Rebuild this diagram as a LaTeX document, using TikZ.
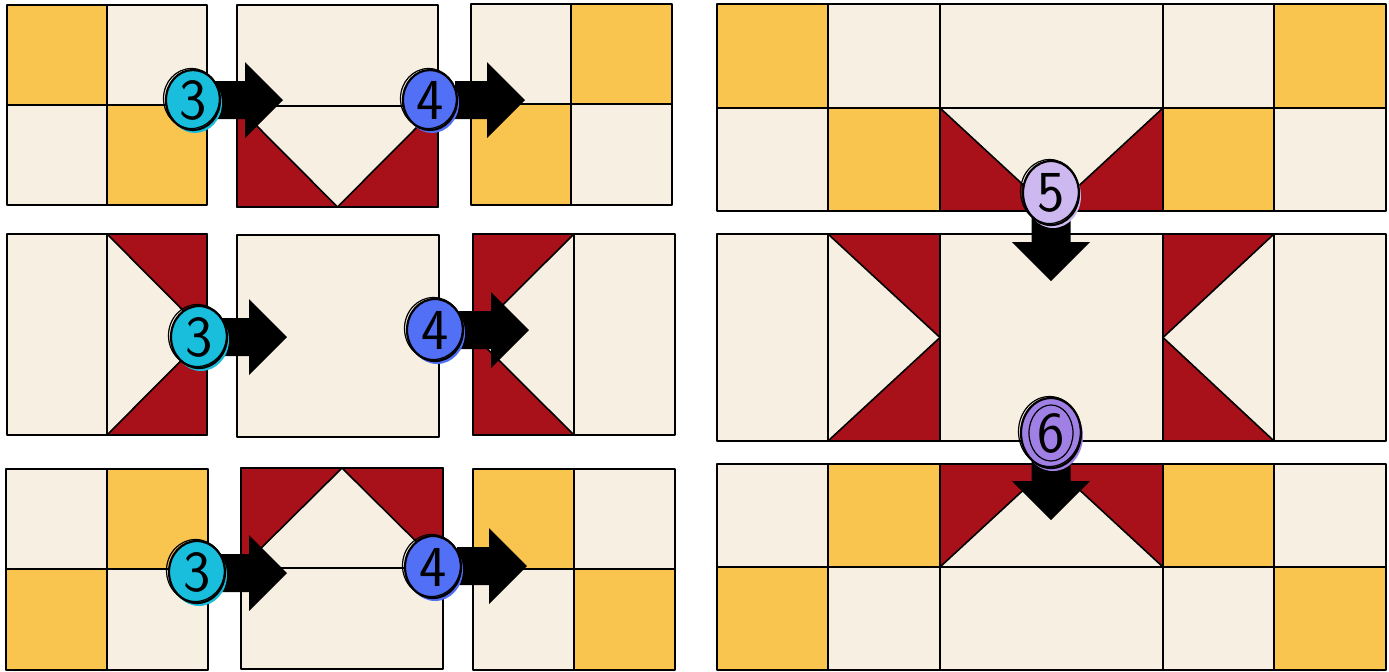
\documentclass[tikz,border=0pt]{standalone}
\usetikzlibrary{shapes.geometric}
\definecolor{qgold}{RGB}{249,197,79}
\definecolor{qcream}{RGB}{247,240,226}
\definecolor{qred}{RGB}{168,17,25}
\definecolor{qcyan}{RGB}{24,190,220}
\definecolor{qblue}{RGB}{82,112,245}
\definecolor{qlilac}{RGB}{205,184,240}
\definecolor{qviolet}{RGB}{161,128,229}
\tikzset{
  cell/.style={draw=black,line width=0.8pt,line join=round},
  gc/.style={cell,fill=qgold},
  cc/.style={cell,fill=qcream},
  rc/.style={cell,fill=qred},
  badge/.style={ellipse,draw=black,line width=1.1pt,inner sep=0pt,
    font=\sffamily\fontsize{29}{29}\selectfont},
  rarr/.pic={\fill[black] (-70,-19) -- (-38,-19) -- (-38,-38) -- (0,0) -- (-38,38) -- (-38,19) -- (-70,19) -- cycle;},
  darr/.pic={\fill[black] (-19.5,-78) -- (-19.5,-39) -- (-39,-39) -- (0,0) -- (39,-39) -- (19.5,-39) -- (19.5,-78) -- cycle;}
}
\newcommand\mybadge[7]{%
  \fill[#4] ($(#2,#3)+(2,3)$) ellipse [x radius=#6, y radius=#7];
  \node[badge,fill=#4,minimum width=#6pt,minimum height=#7pt] (#1) at (#2,#3) {#5};
  \draw[line width=0.6pt] ($(#2,#3)+(-1.5,-1.5)$) ellipse [x radius=#6+1, y radius=#7];
}
\usetikzlibrary{calc}
\begin{document}
\begin{tikzpicture}[x=0.5pt,y=-0.5pt]
\useasboundingbox (0,0) rectangle (1389,671);
\fill[white] (0,0) rectangle (1389,671);
% ---------- Row 1 left ----------
\filldraw[gc] (7,5) rectangle (107,105);
\filldraw[cc] (107,5) rectangle (207,105);
\filldraw[cc] (7,105) rectangle (107,205);
\filldraw[gc] (107,105) rectangle (207,205);
% block B
\filldraw[cc] (237,5) rectangle (438,106);
\filldraw[cc] (237,106) rectangle (438,207);
\filldraw[rc] (237,106) -- (337.5,207) -- (237,207) -- cycle;
\filldraw[rc] (438,106) -- (438,207) -- (337.5,207) -- cycle;
% block C
\filldraw[cc] (471,4) rectangle (571,104);
\filldraw[gc] (571,4) rectangle (672,104);
\filldraw[gc] (471,104) rectangle (571,205);
\filldraw[cc] (571,104) rectangle (672,205);
% ---------- Row 2 left ----------
\filldraw[cc] (7,234) rectangle (107,435);
\filldraw[cc] (107,234) rectangle (207,435);
\filldraw[rc] (107,234) -- (207,234) -- (207,334.5) -- cycle;
\filldraw[rc] (107,435) -- (207,435) -- (207,334.5) -- cycle;
\filldraw[cc] (237,235) rectangle (439,437);
\filldraw[cc] (473,234) rectangle (574,435);
\filldraw[cc] (574,234) rectangle (675,435);
\filldraw[rc] (473,234) -- (574,234) -- (473,334.5) -- cycle;
\filldraw[rc] (473,435) -- (574,435) -- (473,334.5) -- cycle;
% ---------- Row 3 left ----------
\filldraw[cc] (6,469) rectangle (107,569);
\filldraw[gc] (107,469) rectangle (208,569);
\filldraw[gc] (6,569) rectangle (107,670);
\filldraw[cc] (107,569) rectangle (208,670);
\filldraw[cc] (241,468) rectangle (443,568);
\filldraw[cc] (241,568) rectangle (443,669);
\filldraw[rc] (241,468) -- (342,468) -- (241,568) -- cycle;
\filldraw[rc] (443,468) -- (342,468) -- (443,568) -- cycle;
\filldraw[gc] (473,469) rectangle (574,569);
\filldraw[cc] (574,469) rectangle (675,569);
\filldraw[cc] (473,569) rectangle (574,670);
\filldraw[gc] (574,569) rectangle (675,670);
% ---------- Right top block ----------
\filldraw[gc] (717,4) rectangle (828,108);
\filldraw[cc] (828,4) rectangle (940,108);
\filldraw[cc] (940,4) rectangle (1163,108);
\filldraw[cc] (1163,4) rectangle (1274,108);
\filldraw[gc] (1274,4) rectangle (1386,108);
\filldraw[cc] (717,108) rectangle (828,211);
\filldraw[gc] (828,108) rectangle (940,211);
\filldraw[cc] (940,108) rectangle (1163,211);
\filldraw[rc] (940,108) -- (1051.5,211) -- (940,211) -- cycle;
\filldraw[rc] (1163,108) -- (1163,211) -- (1051.5,211) -- cycle;
\filldraw[gc] (1163,108) rectangle (1274,211);
\filldraw[cc] (1274,108) rectangle (1386,211);
% ---------- Right middle block ----------
\filldraw[cc] (717,234) rectangle (828,441);
\filldraw[cc] (828,234) rectangle (940,441);
\filldraw[rc] (828,234) -- (940,234) -- (940,337.5) -- cycle;
\filldraw[rc] (940,337.5) -- (940,441) -- (828,441) -- cycle;
\filldraw[cc] (940,234) rectangle (1163,441);
\filldraw[cc] (1163,234) rectangle (1274,441);
\filldraw[rc] (1163,234) -- (1274,234) -- (1163,337.5) -- cycle;
\filldraw[rc] (1163,337.5) -- (1163,441) -- (1274,441) -- cycle;
\filldraw[cc] (1274,234) rectangle (1386,441);
% ---------- Right bottom block ----------
\filldraw[cc] (717,464) rectangle (828,567);
\filldraw[gc] (828,464) rectangle (940,567);
\filldraw[cc] (940,464) rectangle (1163,567);
\filldraw[rc] (940,464) -- (1051.5,464) -- (940,567) -- cycle;
\filldraw[rc] (1163,464) -- (1051.5,464) -- (1163,567) -- cycle;
\filldraw[gc] (1163,464) rectangle (1274,567);
\filldraw[cc] (1274,464) rectangle (1386,567);
\filldraw[gc] (717,567) rectangle (828,670);
\filldraw[cc] (828,567) rectangle (940,670);
\filldraw[cc] (940,567) rectangle (1163,670);
\filldraw[cc] (1163,567) rectangle (1274,670);
\filldraw[gc] (1274,567) rectangle (1386,670);
% ---------- Arrows ----------
\coordinate (t3a) at (283,100);
\coordinate (t4a) at (525,100);
\coordinate (t3b) at (287,337);
\coordinate (t4b) at (529,330);
\coordinate (t3c) at (287,573);
\coordinate (t4c) at (527,566);
\coordinate (t5) at (1051,281);
\coordinate (t6) at (1051,520);
\pic at (t3a) {rarr};
\pic at (t4a) {rarr};
\pic at (t3b) {rarr};
\pic at (t4b) {rarr};
\pic at (t3c) {rarr};
\pic at (t4c) {rarr};
\pic at (t5) {darr};
\pic at (t6) {darr};
% ---------- Badges ----------
\mybadge{c3a}{193}{100}{qcyan}{3}{27}{30}
\mybadge{c4a}{430}{100}{qblue}{4}{27}{30}
\mybadge{c3b}{199}{337}{qcyan}{3}{28}{31}
\mybadge{c4b}{435}{330}{qblue}{4}{28}{31}
\mybadge{c3c}{197}{572}{qcyan}{3}{28}{31}
\mybadge{c4c}{433}{567}{qblue}{4}{28}{31}
\mybadge{c5}{1051}{193}{qlilac}{5}{28}{32}
\mybadge{c6}{1051}{433}{qviolet}{6}{30}{35}
\draw[line width=0.6pt] (c6.center) ellipse [x radius=22, y radius=28];
\end{tikzpicture}
\end{document}
